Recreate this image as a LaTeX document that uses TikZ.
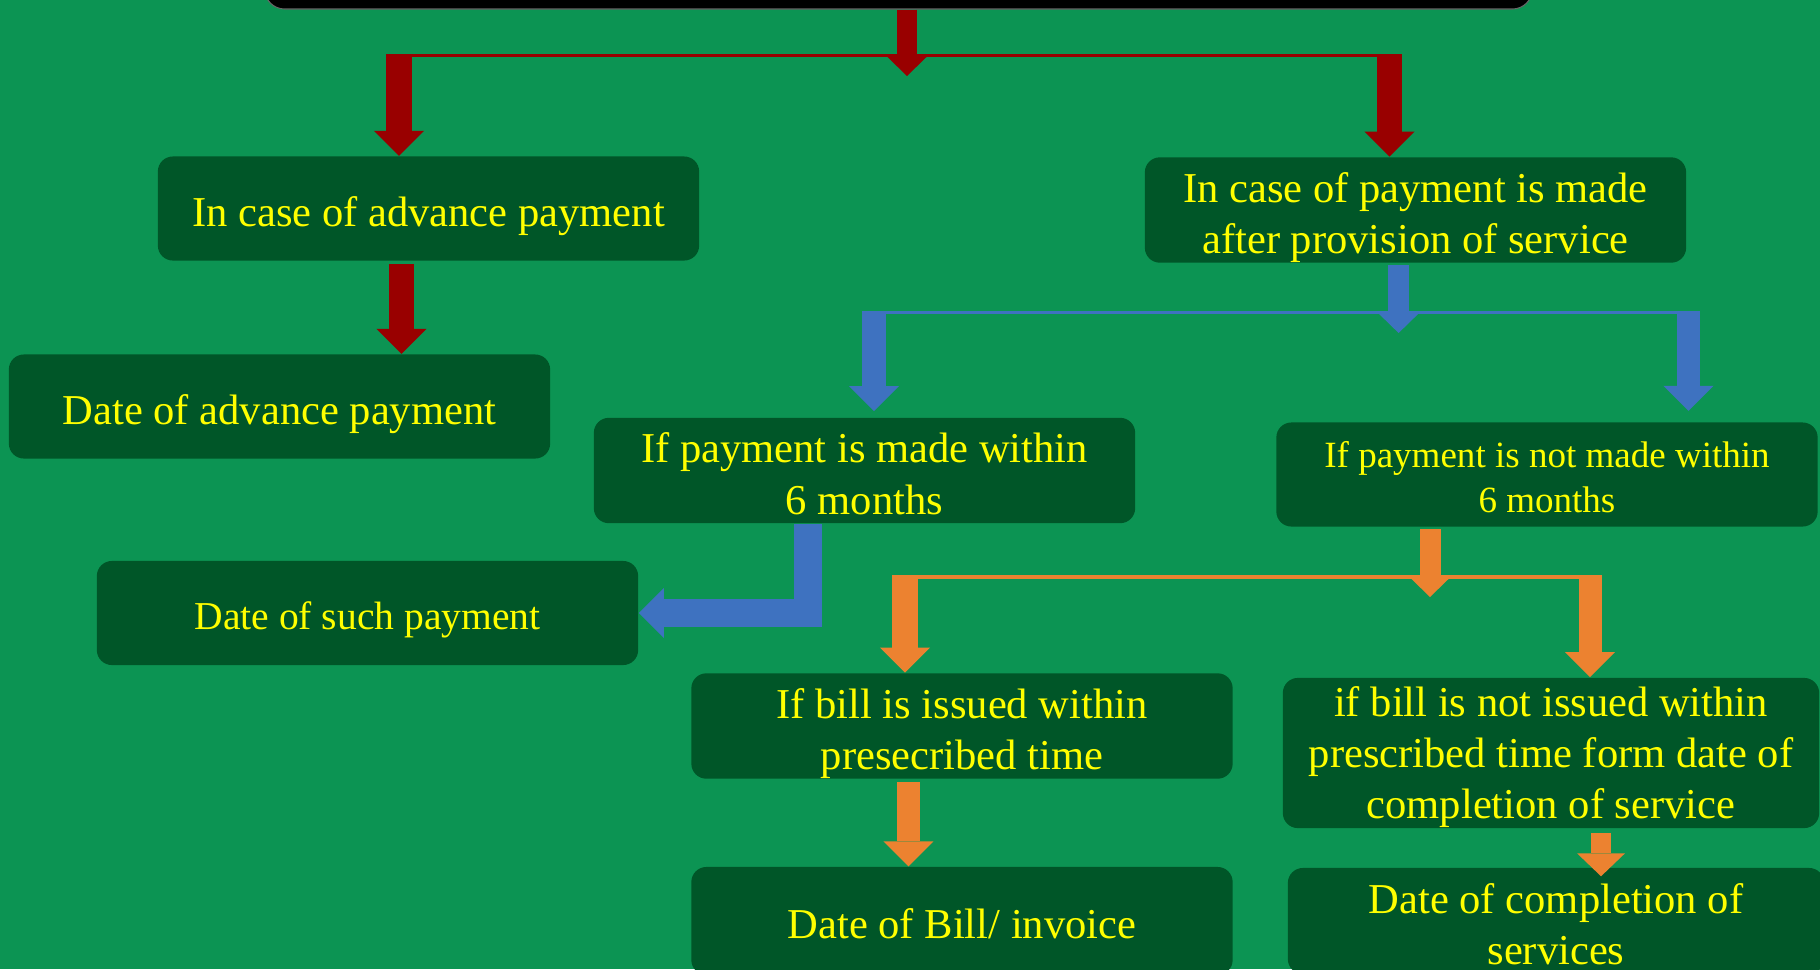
\documentclass[tikz,border=0pt]{standalone}
\usepackage{fontspec}
\setmainfont{Liberation Serif}
\usepackage{tikz}
\usetikzlibrary{arrows.meta}
\usetikzlibrary{calc}
\definecolor{bggreen}{RGB}{12,148,83}
\definecolor{boxgreen}{RGB}{0,86,40}
\definecolor{txtyellow}{RGB}{255,255,0}
\definecolor{redarrow}{RGB}{153,0,0}
\definecolor{bluearrow}{RGB}{62,114,192}
\definecolor{orangearrow}{RGB}{236,130,48}
\newcommand\bs[1][1.054em]{\rule{0pt}{#1}}
\newcommand\es{\rule[-0.216em]{0pt}{0.216em}}
\tikzstyle{box}=[rectangle,rounded corners=0.15cm,fill=boxgreen,text=txtyellow,align=center,inner sep=0pt,minimum width=5.41cm,minimum height=1.04cm,font=\fontsize{12.1}{14.6}\selectfont]
\tikzstyle{titlebox}=[rectangle,rounded corners=0.2cm,fill=black,draw=black!60,line width=0.3pt,minimum width=12.67cm,minimum height=0.68cm]
\tikzstyle{trunk}=[line width=0.21cm,-{Triangle[width=0.39cm,length=0.19cm,line width=0pt]}]
\tikzstyle{branch}=[line width=0.24cm,-{Triangle[width=0.5cm,length=0.25cm,line width=0pt]}]

\begin{document}
\begin{tikzpicture}[x=0.01cm,y=-0.01cm]
	\useasboundingbox (0,0) rectangle (1820,969);
	\fill[bggreen] (0,0) rectangle (1820,969);
	\clip (0,0) rectangle (1820,969);

	\node[titlebox] (title) at (898.5,-25) {};
	\node[box] (adv) at (428.5,208.5) {\bs In case of advance payment\es};
	\node[box] (advdate) at (279.5,406.5) {\bs Date of advance payment\es};
	\node[box] (after) at (1415.5,210) {\bs In case of payment is made\\after provision of service\es};
	\node[box] (within) at (864.5,470.5) {\bs If payment is made within\\6 months\es};
	\node[box,font=\fontsize{10.53}{12.9}\selectfont] (notwithin) at (1547,474.5) {\bs If payment is not made within\\6 months\es};
	\node[box,font=\fontsize{11.24}{13.5}\selectfont] (such) at (367.5,613) {\bs Date of such payment\es};
	\node[box] (billin) at (962,726) {\bs If bill is issued within\\presecribed time\es};
	\node[box,minimum width=5.36cm,minimum height=1.5cm] (billnot) at (1551,753) {\bs[0.9em]if bill is not issued within\\prescribed time form date of\\completion of service\es};
	\node[box,minimum height=1.08cm] (billdate) at (962,921) {\bs Date of Bill/ invoice\es};
	\node[box,minimum width=5.36cm,minimum height=1.06cm] (compdate) at (1556,921) {\bs Date of completion of\\services\es};

	\coordinate (rtip) at (907,76);
	\coordinate (rl) at (399,54);
	\coordinate (rr) at (1389.5,54);
	\fill[redarrow] ([xshift=-0.125cm]rl) rectangle ([xshift=0.125cm,yshift=-0.03cm]rr);
	\draw[redarrow,trunk,line width=0.2cm] (title.south -| rtip) -- (rtip);
	\draw[redarrow,branch,line width=0.25cm] (rl) -- (adv.north -| rl);
	\draw[redarrow,branch,line width=0.25cm] (rr) -- (after.north -| rr);
	\draw[redarrow,branch,line width=0.255cm] ([xshift=-0.27cm,yshift=-0.03cm]adv.south) -- ([xshift=-0.27cm]adv.south |- advdate.north);

	\coordinate (btip) at (1398.6,333);
	\coordinate (bl) at (874,311);
	\coordinate (br) at (1688.5,311);
	\fill[bluearrow] ([xshift=-0.115cm]bl) rectangle ([xshift=0.115cm,yshift=-0.03cm]br);
	\draw[bluearrow,trunk] ([yshift=-0.02cm]after.south -| btip) -- (btip);
	\draw[bluearrow,branch,line width=0.23cm,shorten >=0.06cm] (bl) -- (within.north -| bl);
	\draw[bluearrow,branch,line width=0.23cm,shorten >=0.11cm] (br) -- (notwithin.north -| br);
	\draw[bluearrow,branch,line width=0.28cm] ([xshift=-0.565cm]within.south) |- (such.east);

	\coordinate (otip) at (1430,597);
	\coordinate (ol) at (905,575);
	\coordinate (or) at (1590,575);
	\fill[orangearrow] ([xshift=-0.125cm]ol) rectangle ([xshift=0.12cm,yshift=-0.04cm]or);
	\draw[orangearrow,trunk,-{Triangle[width=0.37cm,length=0.18cm,line width=0pt]}] ([yshift=-0.02cm]notwithin.south -| otip) -- (otip);
	\draw[orangearrow,branch,line width=0.25cm] (ol) -- (billin.north -| ol);
	\draw[orangearrow,branch,line width=0.23cm] (or) -- (billnot.north -| or);
	\draw[orangearrow,branch,line width=0.23cm] ([xshift=-0.535cm,yshift=-0.03cm]billin.south) -- ([xshift=-0.535cm]billin.south |- billdate.north);
	\draw[orangearrow,branch,line width=0.2cm,-{Triangle[width=0.48cm,length=0.23cm,line width=0pt]},shorten >=-0.09cm] ([xshift=0.5cm,yshift=-0.04cm]billnot.south) -- ([xshift=0.5cm]billnot.south |- compdate.north);
\end{tikzpicture}
\end{document}
